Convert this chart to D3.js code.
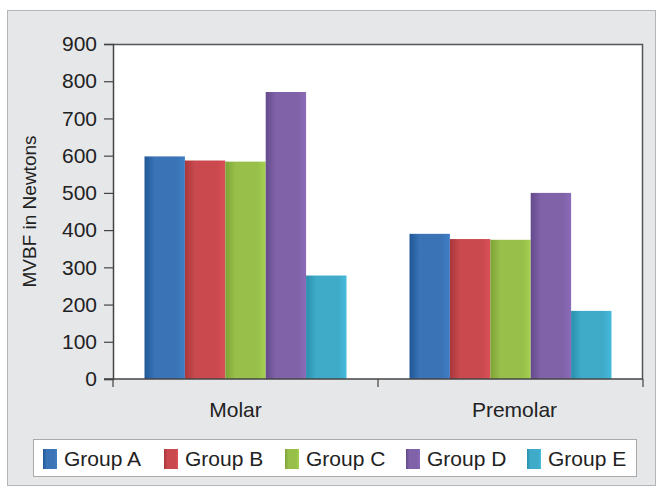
<!DOCTYPE html>
<html><head><meta charset="utf-8">
<script src="https://cdn.jsdelivr.net/npm/d3@7"></script>
<style>body{margin:0;background:#fff}svg{display:block}text{font-family:"Liberation Sans",Arial,sans-serif;fill:#222}</style>
</head><body>
<script>
const categories = ["Molar", "Premolar"];
const groups = ["Group A", "Group B", "Group C", "Group D", "Group E"];
const groupA = [598, 390];
const groupB = [587, 376];
const groupC = [584, 374];
const groupD = [771, 500];
const groupE = [278, 183];
const yTicks = [0, 100, 200, 300, 400, 500, 600, 700, 800, 900];
const colors = ["#3a74b6", "#c9494f", "#97bf4a", "#7f62a8", "#3fabc9"];
const darkColors = ["#1f5797", "#a8383c", "#7da337", "#654a8c", "#2a8fab"];

const series = [groupA, groupB, groupC, groupD, groupE];
const W = 656, H = 487;
const svg = d3.select("body").append("svg").attr("width", W).attr("height", H);
const defs = svg.append("defs");
colors.forEach((c, i) => {
  const g = defs.append("linearGradient").attr("id", "g" + i).attr("x1", "0").attr("x2", "1").attr("y1", "0").attr("y2", "0");
  g.append("stop").attr("offset", "0").attr("stop-color", darkColors[i]);
  g.append("stop").attr("offset", "0.25").attr("stop-color", c);
  g.append("stop").attr("offset", "0.8").attr("stop-color", c);
  g.append("stop").attr("offset", "1").attr("stop-color", d3.color(c).brighter(0.25));
});

svg.append("rect").attr("x", 7.5).attr("y", 10.5).attr("width", 648).attr("height", 475)
  .attr("fill", "#e6e7e9").attr("stroke", "#b4b5b7");

const m = {l: 113, r: 643, t: 44, b: 379};
const x0 = d3.scaleBand().domain(categories).range([m.l, m.r]).paddingInner(0).paddingOuter(0);
const x1 = d3.scaleBand().domain(groups).range([0, x0.bandwidth()]).paddingOuter(0.78).paddingInner(0);
const y = d3.scaleLinear().domain([0, 900]).range([m.b, m.t]);

svg.append("rect").attr("x", m.l).attr("y", m.t).attr("width", m.r - m.l).attr("height", m.b - m.t)
  .attr("fill", "#fff");
svg.append("path").attr("d", `M${m.l},${m.t}.5H${m.r - 0.5}V${m.b}`).attr("fill", "none").attr("stroke", "#555").attr("stroke-width", 1.5);

categories.forEach((cat, ci) => {
  series.forEach((s, gi) => {
    svg.append("rect")
      .attr("x", x0(cat) + x1(groups[gi]))
      .attr("y", y(s[ci]))
      .attr("width", x1.bandwidth())
      .attr("height", y(0) - y(s[ci]))
      .attr("fill", `url(#g${gi})`);
  });
});

const yAxis = svg.append("g").attr("transform", `translate(${m.l},0)`)
  .call(d3.axisLeft(y).tickValues(yTicks).tickSize(9).tickPadding(7));
yAxis.select(".domain").attr("stroke", "#444").attr("stroke-width", 1.5);
yAxis.selectAll(".tick line").attr("stroke", "#444").attr("stroke-width", 1.2);
yAxis.selectAll("text").style("font-size", "21px").attr("fill", "#222");

const xg = svg.append("g");
xg.append("line").attr("x1", m.l - 9).attr("x2", m.r).attr("y1", m.b).attr("y2", m.b).attr("stroke", "#444").attr("stroke-width", 1.5);
[m.l, x0("Premolar"), m.r].forEach(v => {
  xg.append("line").attr("x1", v).attr("x2", v).attr("y1", m.b).attr("y2", m.b + 8).attr("stroke", "#444").attr("stroke-width", 1.2);
});
const labelNudge = [-10, 4];
categories.forEach((cat, i) => {
  xg.append("text").attr("x", x0(cat) + x0.bandwidth() / 2 + labelNudge[i]).attr("y", 417)
    .attr("text-anchor", "middle").style("font-size", "21px").text(cat);
});

svg.append("text").attr("transform", `translate(36,${(m.t + m.b) / 2}) rotate(-90)`)
  .attr("text-anchor", "middle").style("font-size", "19px").text("MVBF in Newtons");

const leg = svg.append("g");
leg.append("rect").attr("x", 33.5).attr("y", 439.5).attr("width", 603).attr("height", 37)
  .attr("fill", "#fff").attr("stroke", "#aaa");
const legX = [43, 164, 285, 406, 527];
groups.forEach((g, i) => {
  leg.append("rect").attr("x", legX[i]).attr("y", 449).attr("width", 14).attr("height", 20).attr("fill", `url(#g${i})`);
  leg.append("text").attr("x", legX[i] + 21).attr("y", 466).style("font-size", "21px").text(g);
});
</script>
</body></html>
